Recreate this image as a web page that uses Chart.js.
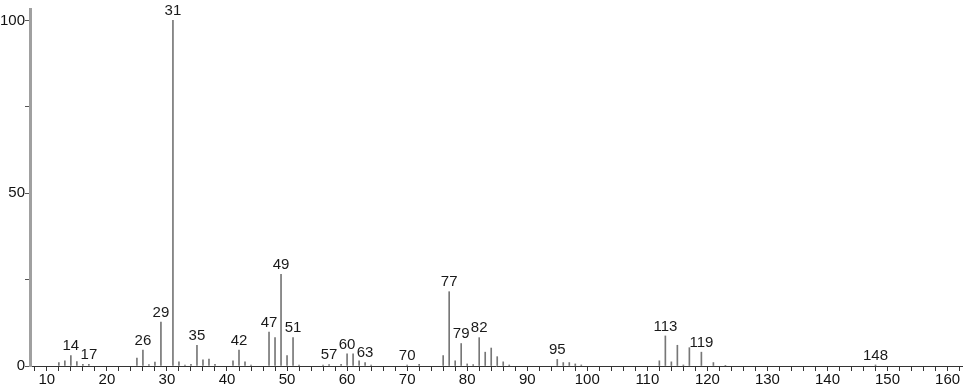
<!DOCTYPE html>
<html>
<head>
<meta charset="utf-8">
<script src="https://cdn.jsdelivr.net/npm/chart.js@4.4.1/dist/chart.umd.min.js"></script>
<style>
  html, body { margin: 0; padding: 0; background: #fff; }
  #wrap { width: 966px; height: 389px; }
</style>
</head>
<body>
<div id="wrap"><canvas id="myChart" width="966" height="389"></canvas></div>
<script>
// m/z values and relative intensities
const masses = [12, 13, 14, 15, 16, 17, 25, 26, 27, 28, 29, 31, 32, 33, 34, 35, 36, 37, 38,
  41, 42, 43, 44, 47, 48, 49, 50, 51, 52, 56, 57, 59, 60, 61, 62, 63, 64, 70, 72,
  76, 77, 78, 79, 80, 81, 82, 83, 84, 85, 86, 87, 95, 96, 97, 98, 99,
  112, 113, 114, 115, 116, 117, 119, 121, 123, 148];
const intensities = [1.0, 1.5, 3.0, 1.3, 0.5, 0.5, 2.3, 4.6, 0.4, 1.1, 12.7, 100, 1.2, 0.3, 0.5, 6.0, 1.8, 2.0, 0.5,
  1.5, 4.6, 1.2, 0.3, 9.8, 8.2, 26.5, 3.0, 8.2, 0.3, 0.3, 0.4, 0.5, 3.5, 3.5, 1.5, 1.0, 0.3, 0.3, 0.5,
  3.0, 21.5, 1.5, 6.5, 0.6, 0.4, 8.2, 4.0, 5.2, 2.7, 1.2, 0.3, 1.9, 1.0, 1.0, 0.6, 0.3,
  1.5, 8.7, 1.2, 6.0, 0.3, 5.3, 4.0, 1.0, 0.2, 0.3];
const labelled = [14, 17, 26, 29, 31, 35, 42, 47, 49, 51, 57, 60, 63, 70, 77, 79, 82, 95, 113, 119, 148];
const yTickLabels = [0, 50, 100];

const points = [];
for (let i = 0; i < masses.length; i++) {
  points.push({x: masses[i], y: intensities[i]});
}

const peakLabels = {
  id: 'peakLabels',
  afterDatasetsDraw(chart) {
    const ctx = chart.ctx;
    const xs = chart.scales.x;
    const ys = chart.scales.y;
    ctx.save();
    ctx.font = '15px "Liberation Sans"';
    ctx.fillStyle = '#1a1a1a';
    ctx.textAlign = 'center';
    ctx.textBaseline = 'bottom';
    labelled.forEach(m => {
      const idx = masses.indexOf(m);
      const v = idx >= 0 ? intensities[idx] : 0;
      ctx.fillText(String(m), xs.getPixelForValue(m), ys.getPixelForValue(v) - 2);
    });
    ctx.restore();
  }
};

new Chart("myChart", {
  type: "bar",
  data: {
    datasets: [{
      data: points,
      backgroundColor: "#777",
      borderWidth: 0,
      barThickness: 1
    }]
  },
  plugins: [peakLabels],
  options: {
    responsive: false,
    animation: false,
    layout: {padding: {left: 0, right: 4, top: 0, bottom: 0}},
    plugins: {legend: {display: false}, tooltip: {enabled: false}},
    scales: {
      x: {
        type: "linear",
        offset: false,
        min: 7.2,
        max: 162.4,
        grid: {display: true, offset: false, drawOnChartArea: false, drawTicks: true, tickLength: 5, color: "#333"},
        border: {display: true, color: "#333", width: 1},
        ticks: {
          stepSize: 2,
          includeBounds: false,
          autoSkip: false,
          maxRotation: 0,
          padding: 0,
          color: "#111",
          font: {family: "Liberation Sans", size: 15},
          callback: v => (v % 10 === 0 ? String(v) : "")
        }
      },
      y: {
        min: 0,
        max: 103.3,
        grid: {display: true, drawOnChartArea: false, drawTicks: true, tickLength: 5, color: "#555"},
        border: {display: true, color: "#a0a0a0", width: 3},
        ticks: {
          stepSize: 25,
          includeBounds: false,
          autoSkip: false,
          padding: 0,
          color: "#111",
          font: {family: "Liberation Sans", size: 15},
          callback: v => (yTickLabels.includes(v) ? String(v) : "")
        }
      }
    }
  }
});
</script>
</body>
</html>
